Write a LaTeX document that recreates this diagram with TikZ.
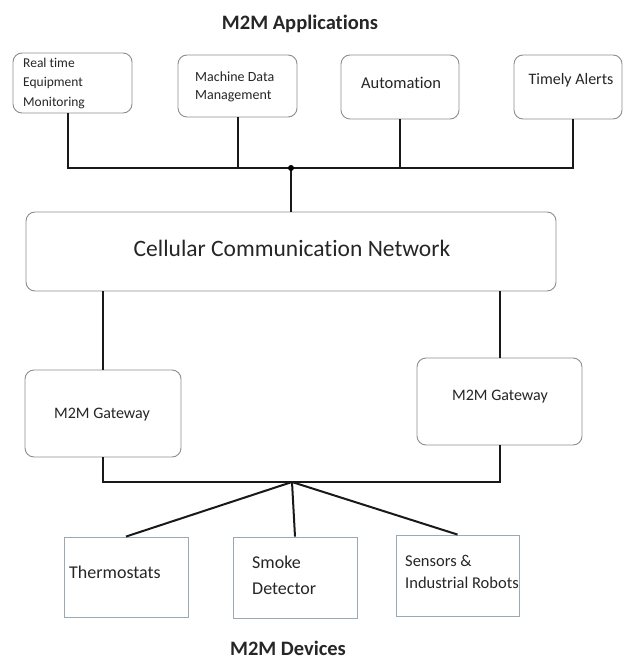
\documentclass[tikz,border=0pt]{standalone}
\usepackage{fontspec}
\setmainfont{Carlito}[Ligatures=NoCommon]
\usetikzlibrary{calc}
\definecolor{boxline}{HTML}{8E8E8E}
\definecolor{devline}{HTML}{9AA9B4}
\definecolor{ink}{HTML}{262626}
\tikzset{
  rbox/.style={draw=boxline, line width=0.9pt, rounded corners=9pt, fill=white, inner sep=0pt},
  dbox/.style={draw=devline, line width=0.9pt, fill=white, inner sep=0pt},
  wire/.style={draw=black!90, line width=2pt},
  lbl/.style={text=ink, inner sep=0pt, align=left},
  heading/.style={text=black!85, font=\bfseries\fontsize{20.5}{24}\selectfont, inner sep=0pt, anchor=base},
}
\begin{document}
\begin{tikzpicture}[x=1pt, y=-1pt]
  \fill[white] (0,0) rectangle (624,660);
  \useasboundingbox (0,0) rectangle (624,660);

  % headings
  \node[heading] (apps) at (300,30) {M2M Applications};
  \node[heading] (devs) at (288,655) {M2M Devices};

  % application boxes (multi-line labels are placed by their last baseline)
  \node[rbox, minimum width=119pt, minimum height=60pt] (rt) at (72.5,83) {};
  \node[rbox, minimum width=119pt, minimum height=62pt] (md) at (237.5,86) {};
  \node[rbox, minimum width=118pt, minimum height=64pt] (au) at (400,87) {};
  \node[rbox, minimum width=108pt, minimum height=64pt] (ta) at (568,87) {};
  \node[lbl, anchor=base west, font=\fontsize{13.5}{19.5}\selectfont] (rtT) at (23,106.5) {Real time\\Equipment\\Monitoring};
  \node[lbl, anchor=base west, font=\fontsize{14}{18}\selectfont] (mdT) at (195,99.6) {Machine Data\\Management};
  \node[lbl, anchor=base, font=\fontsize{16.5}{20}\selectfont] (auT) at (401,88.5) {Automation};
  \node[lbl, anchor=base, font=\fontsize{16}{20}\selectfont] (taT) at (571,84.3) {Timely Alerts};

  % cellular network
  \node[rbox, minimum width=530pt, minimum height=79pt] (ccn) at (291,251.5) {};
  \node[lbl, anchor=base, font=\fontsize{23.5}{28}\selectfont] (ccnT) at (292,256.8) {Cellular Communication Network};

  % gateways
  \node[rbox, minimum width=156pt, minimum height=87pt] (gwL) at (103,413.5) {};
  \node[rbox, minimum width=165pt, minimum height=87pt] (gwR) at (499.5,401.5) {};
  \node[lbl, anchor=base, font=\fontsize{16}{20}\selectfont] (gwLT) at (102,418.3) {M2M Gateway};
  \node[lbl, anchor=base, font=\fontsize{16}{20}\selectfont] (gwRT) at (500,400.5) {M2M Gateway};

  % devices
  \node[dbox, minimum width=124pt, minimum height=80pt] (th) at (126,577) {};
  \node[dbox, minimum width=124pt, minimum height=81pt] (sd) at (295,577.5) {};
  \node[dbox, minimum width=123pt, minimum height=81pt] (sn) at (457.5,575.5) {};
  \node[lbl, anchor=base west, font=\fontsize{18}{22}\selectfont] (thT) at (69,578) {Thermostats};
  \node[lbl, anchor=base west, font=\fontsize{18}{26}\selectfont] (sdT) at (252,594) {Smoke\\Detector};
  \node[lbl, anchor=base west, font=\fontsize{16.5}{22}\selectfont] (snT) at (405,588.5) {Sensors \&\\Industrial Robots};

  % upper bus
  \coordinate (top) at (291,168);
  \draw[wire] ([xshift=-4.5pt]rt.south) |- (top) -| ([xshift=5pt]ta.south);
  \draw[wire] (md.south) -- (md.south |- top);
  \draw[wire] (au.south) -- (au.south |- top);
  \draw[wire] (top) -- (ccn.north);
  \fill[black] (top) circle (3pt);

  % network to gateways
  \draw[wire] (ccn.south -| gwL.north) -- (gwL.north);
  \draw[wire] (ccn.south -| gwR.north) -- (gwR.north);

  % lower bus
  \coordinate (bot) at (292,482);
  \draw[wire] (gwL.south) |- (bot) -| (gwR.south);
  \draw[wire] (bot) -- (th.north);
  \draw[wire] (bot) -- (sd.north);
  \draw[wire] (bot) -- (sn.north);
\end{tikzpicture}
\end{document}
